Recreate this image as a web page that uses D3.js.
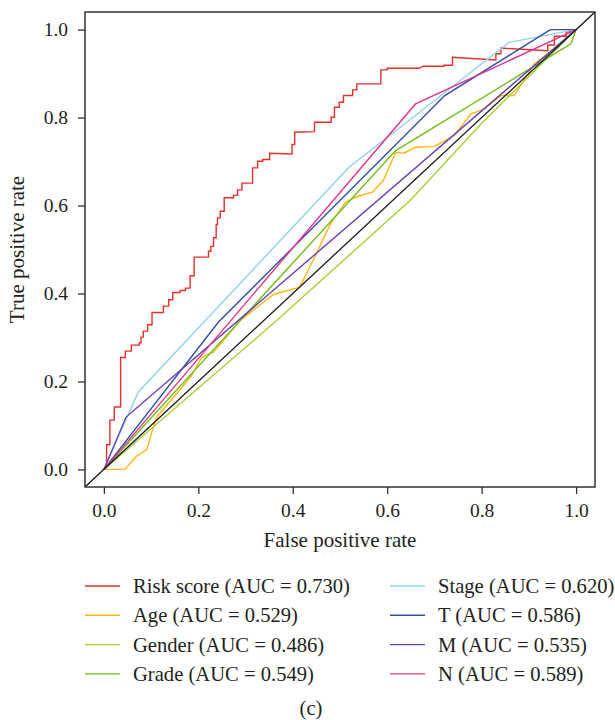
<!DOCTYPE html>
<html>
<head>
<meta charset="utf-8">
<script src="https://cdn.jsdelivr.net/npm/d3@7"></script>
<style>
  html, body { margin: 0; padding: 0; background: #fff; }
  svg { display: block; }
  text { font-family: "Liberation Serif", "DejaVu Serif", serif; fill: #231f20; }
</style>
</head>
<body>
<svg id="chart" width="615" height="720"></svg>
<script>
// ---------- data ----------
const seriesNames = ["Risk score", "Age", "Gender", "Grade", "Stage", "T", "M", "N"];
const aucValues = ["0.730", "0.529", "0.486", "0.549", "0.620", "0.586", "0.535", "0.589"];
const xTicks = [0, 0.2, 0.4, 0.6, 0.8, 1.0];
const yTicks = [0, 0.2, 0.4, 0.6, 0.8, 1.0];

// [false positive rate, true positive rate]
const riskScore = [
  [0,0],[0.0057,0.005],[0.0057,0.056],[0.0127,0.056],[0.0127,0.112],
  [0.0219,0.112],[0.0219,0.142],[0.0354,0.142],[0.0354,0.2545],
  [0.0453,0.2545],[0.0453,0.269],[0.058,0.269],[0.058,0.2826],
  [0.075,0.2826],[0.075,0.288],[0.0786,0.288],[0.0786,0.3008],
  [0.0835,0.3008],[0.0835,0.3144],[0.0927,0.3144],[0.0927,0.3288],
  [0.1019,0.3288],[0.1019,0.3568],[0.126,0.3568],[0.126,0.3712],
  [0.1373,0.3712],[0.1373,0.3856],[0.1458,0.3856],[0.1458,0.4023],
  [0.1614,0.4023],[0.1614,0.4068],[0.1727,0.4068],[0.1727,0.4121],
  [0.1826,0.4121],[0.1826,0.4402],[0.1911,0.4402],[0.1911,0.4826],
  [0.2215,0.4826],[0.2215,0.496],[0.2265,0.496],[0.2265,0.507],
  [0.2321,0.507],[0.2321,0.5266],[0.2378,0.5266],[0.2378,0.557],
  [0.2406,0.557],[0.2406,0.572],[0.2463,0.572],[0.2463,0.587],
  [0.2548,0.587],[0.2548,0.6175],[0.2746,0.6175],[0.2746,0.623],
  [0.2831,0.623],[0.2831,0.6356],[0.2923,0.6356],[0.2923,0.651],
  [0.3149,0.651],[0.3149,0.6856],[0.3256,0.6856],[0.3256,0.7007],
  [0.3362,0.7007],[0.3362,0.7045],[0.351,0.7045],[0.351,0.719],
  [0.3984,0.717],[0.3984,0.7386],[0.4041,0.7386],[0.4041,0.7667],
  [0.446,0.768],[0.446,0.7894],[0.4812,0.7894],[0.4812,0.8008],
  [0.4883,0.8008],[0.4883,0.8235],[0.4983,0.8235],[0.4983,0.8349],
  [0.5074,0.8349],[0.5074,0.85],[0.5268,0.85],[0.5268,0.863],
  [0.5357,0.863],[0.5357,0.8765],[0.5865,0.8765],[0.5865,0.9083],
  [0.600,0.9083],[0.600,0.912],[0.667,0.912],[0.6766,0.9167],
  [0.7205,0.9167],[0.7205,0.919],[0.7381,0.919],[0.7381,0.937],
  [0.8301,0.931],[0.8301,0.945],[0.8407,0.945],[0.8407,0.958],
  [0.94,0.952],[0.94,0.965],[0.954,0.965],[0.954,0.985],
  [0.9788,0.985],[0.9788,0.994],[1,1]
];
const age = [
  [0,0],[0.0446,0],[0.069,0.03],[0.0906,0.0447],[0.1047,0.0962],[0.1118,0.119],
  [0.16,0.18],[0.186,0.2136],[0.2074,0.2553],[0.232,0.2667],[0.29,0.34],
  [0.3595,0.3977],[0.4147,0.4144],[0.448,0.4864],[0.4798,0.5583],[0.5117,0.6076],
  [0.5364,0.6205],[0.5683,0.6303],[0.5917,0.6568],[0.618,0.721],[0.6355,0.719],
  [0.6603,0.7326],[0.699,0.734],[0.7417,0.759],[0.777,0.808],[0.8053,0.8197],
  [0.8408,0.85],[0.869,0.85],[0.9115,0.922],[0.947,0.952],[1,1]
];
const gender = [[0,0],[0.36,0.333],[0.65,0.613],[0.80,0.787],[1,1]];
const grade = [[0,0],[0.618,0.725],[0.989,0.9675],[1,1]];
const stage = [[0,0],[0.073,0.176],[0.519,0.687],[0.858,0.971],[1,1]];
const tStage = [[0,0],[0.2427,0.335],[0.7219,0.85],[0.9455,1],[1,1]];
const mStage = [[0,0],[0.047,0.119],[1,1]];
const nStage = [[0,0],[0.66,0.831],[1,1]];

const allSeries = [riskScore, age, gender, grade, stage, tStage, mStage, nStage];
const colors = ["#E4312B", "#FDB714", "#A9CF38", "#6FBE1A", "#90D4E8", "#2F4F9F", "#6740B2", "#E2358F"];

// ---------- layout ----------
const svg = d3.select("#chart");
const pLeft = 85, pRight = 595, pTop = 12, pBottom = 487;
const x = d3.scaleLinear().domain([-0.04, 1.04]).range([pLeft, pRight]);
const y = d3.scaleLinear().domain([-0.04, 1.04]).range([pBottom, pTop]);

svg.append("defs").append("clipPath").attr("id", "clip")
  .append("rect").attr("x", pLeft).attr("y", pTop)
  .attr("width", pRight - pLeft).attr("height", pBottom - pTop);

const line = d3.line().x(d => x(d[0])).y(d => y(d[1]));

const plot = svg.append("g").attr("clip-path", "url(#clip)");
allSeries.forEach((s, i) => {
  plot.append("path").datum(s)
    .attr("d", line)
    .attr("fill", "none")
    .attr("stroke", colors[i])
    .attr("stroke-width", 1.4)
    .attr("stroke-linejoin", "miter");
});
// reference diagonal
plot.append("path").datum([[-0.04, -0.04], [1.04, 1.04]])
  .attr("d", line).attr("fill", "none")
  .attr("stroke", "#1a1a1a").attr("stroke-width", 1.3);

// frame
svg.append("rect").attr("x", pLeft).attr("y", pTop)
  .attr("width", pRight - pLeft).attr("height", pBottom - pTop)
  .attr("fill", "none").attr("stroke", "#333").attr("stroke-width", 1.5);

// axes
const fmt = d3.format(".1f");
const xAxis = svg.append("g").attr("transform", `translate(0,${pBottom})`)
  .call(d3.axisBottom(x).tickValues(xTicks).tickFormat(fmt).tickSize(7).tickSizeOuter(0).tickPadding(9));
const yAxis = svg.append("g").attr("transform", `translate(${pLeft},0)`)
  .call(d3.axisLeft(y).tickValues(yTicks).tickFormat(fmt).tickSize(7).tickSizeOuter(0).tickPadding(10));
[xAxis, yAxis].forEach(a => {
  a.select(".domain").remove();
  a.selectAll(".tick line").attr("stroke", "#333").attr("stroke-width", 1.3);
  a.selectAll(".tick text").attr("font-family", "Liberation Serif, serif")
    .attr("font-size", 19.5).attr("fill", "#231f20");
});

// axis titles
svg.append("text").attr("x", 340).attr("y", 547)
  .attr("text-anchor", "middle").attr("font-size", 21).text("False positive rate");
svg.append("text")
  .attr("transform", `translate(24,${(pTop + pBottom) / 2}) rotate(-90)`)
  .attr("text-anchor", "middle").attr("font-size", 21).text("True positive rate");

// legend
const legend = svg.append("g");
seriesNames.forEach((name, i) => {
  const col = Math.floor(i / 4), row = i % 4;
  const lx = col === 0 ? 85 : 390;
  const ly = 586 + row * 29.3;
  legend.append("line").attr("x1", lx).attr("x2", lx + 35)
    .attr("y1", ly).attr("y2", ly)
    .attr("stroke", colors[i]).attr("stroke-width", 1.4);
  legend.append("text").attr("x", lx + 48).attr("y", ly).attr("dy", "0.34em")
    .attr("font-size", 20.6).text(`${name} (AUC = ${aucValues[i]})`);
});

// panel label
svg.append("text").attr("x", 311).attr("y", 708).attr("dy", "0.34em")
  .attr("text-anchor", "middle").attr("font-size", 20.6).text("(c)");
</script>
</body>
</html>
